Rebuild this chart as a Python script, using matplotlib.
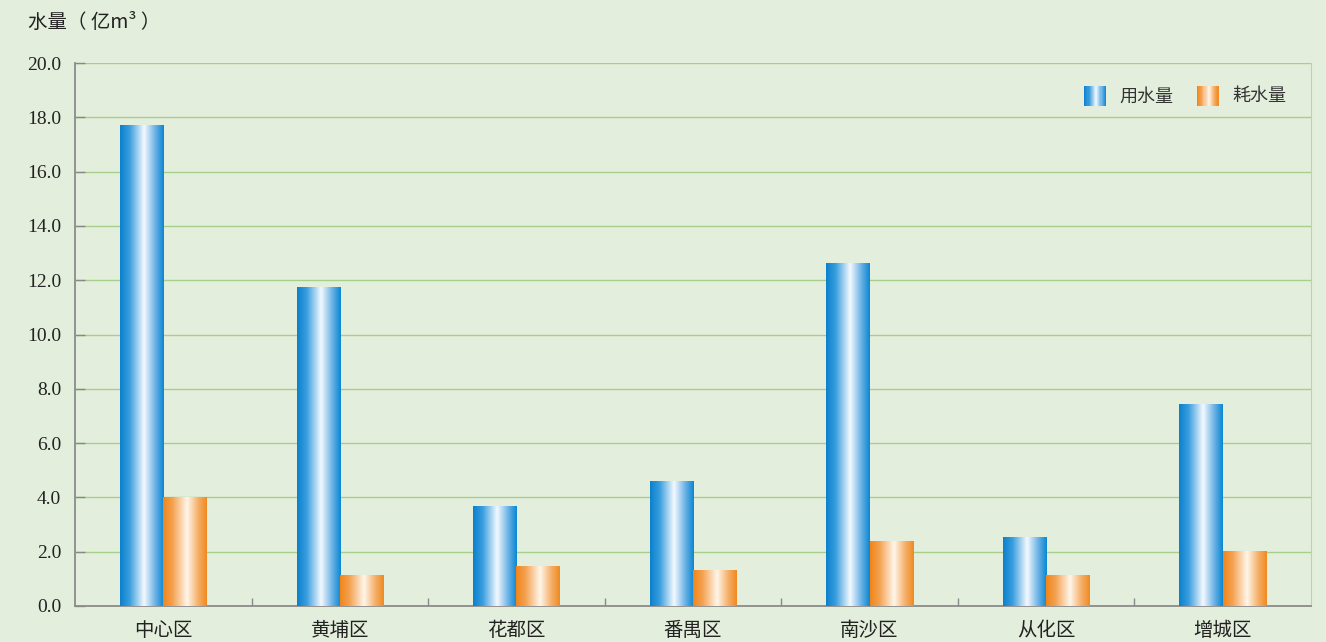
import numpy as np
import matplotlib
matplotlib.use("Agg")
import matplotlib.pyplot as plt
from matplotlib.colors import LinearSegmentedColormap
from matplotlib.patches import Rectangle
from matplotlib.legend_handler import HandlerBase

categories = ["中心区", "黄埔区", "花都区", "番禺区", "南沙区", "从化区", "增城区"]
use_water = [17.68, 11.73, 3.68, 4.6, 12.6, 2.52, 7.42]
consume_water = [4.0, 1.13, 1.46, 1.32, 2.37, 1.13, 2.0]
series_names = ["用水量", "耗水量"]
yticks = [0, 2, 4, 6, 8, 10, 12, 14, 16, 18, 20]

BG = "#e3efdc"
blue_cmap = LinearSegmentedColormap.from_list(
    "b", [(0, "#0a80cc"), (0.22, "#3a9ede"), (0.55, "#f4f9ff"), (0.8, "#6db3e6"), (1, "#0a86d2")])
orange_cmap = LinearSegmentedColormap.from_list(
    "o", [(0, "#f08519"), (0.22, "#f4a252"), (0.55, "#fff6ea"), (0.8, "#f5b06a"), (1, "#f08a20")])

fig = plt.figure(figsize=(13.26, 6.42), dpi=100, facecolor=BG)
ax = fig.add_axes([75/1326, 36/642, (1311-75)/1326, (606-63)/642])
ax.set_facecolor(BG)

x = np.arange(len(categories))
w = 0.245
b1 = ax.bar(x - w/2, use_water, w, color="none", edgecolor="none", zorder=3)
b2 = ax.bar(x + w/2, consume_water, w, color="none", edgecolor="none", zorder=3)

grad = np.linspace(0, 1, 256).reshape(1, -1)
for bars, cmap in ((b1, blue_cmap), (b2, orange_cmap)):
    for p in bars:
        x0, y0 = p.get_x(), p.get_y()
        ax.imshow(grad, cmap=cmap, aspect="auto", interpolation="bilinear",
                  extent=(x0, x0 + p.get_width(), y0, y0 + p.get_height()), zorder=3)

ax.set_xlim(-0.5, len(categories) - 0.5)
ax.set_ylim(0, 20)
ax.set_yticks(yticks)
ax.set_yticklabels([f"{v:.1f}" for v in yticks], fontfamily="Liberation Serif", fontsize=14, color="#222222")
ax.yaxis.grid(True, color="#a6cf8c", linewidth=1.0, zorder=1)
ax.set_axisbelow(True)
ax.tick_params(axis="y", direction="in", length=7, width=1, color="#888888", pad=10)

ax.set_xticks(x)
ax.set_xticklabels(categories, fontfamily="Noto Sans CJK SC", fontsize=14, color="#222222")
ax.tick_params(axis="x", length=0, pad=10)
ax.set_xticks(np.arange(0.5, len(categories) - 0.5, 1), minor=True)
ax.tick_params(axis="x", which="minor", direction="in", length=6, width=1, color="#888888")

for s in ("left", "bottom"):
    ax.spines[s].set_color("#8c8c8c")
    ax.spines[s].set_linewidth(1.3)
ax.spines["top"].set_visible(False)
ax.spines["right"].set_color("#bcd2b4")

fig.text(28/1326, 1 - 22/642, "水量（ 亿m³ ）", fontfamily=["Noto Sans CJK SC", "DejaVu Sans"],
         fontsize=14, color="#222222", va="center", ha="left")


class GradHandler(HandlerBase):
    def __init__(self, cmap):
        super().__init__()
        self.cmap = cmap

    def create_artists(self, legend, orig_handle, xdescent, ydescent, width, height, fontsize, trans):
        n = 20
        arts = []
        for i in range(n):
            r = Rectangle((-xdescent + width * i / n, -ydescent - 3), width / n + 0.3, height + 5,
                          facecolor=self.cmap((i + 0.5) / n), edgecolor="none", transform=trans)
            arts.append(r)
        return arts


h1 = Rectangle((0, 0), 1, 1)
h2 = Rectangle((0, 0), 1, 1)
leg = ax.legend([h1, h2], series_names, loc="upper right", bbox_to_anchor=(0.993, 0.985),
                frameon=False, ncol=2, handlelength=1.2, handletextpad=0.75, columnspacing=1.3,
                prop={"family": "Noto Sans CJK SC", "size": 13},
                handler_map={h1: GradHandler(blue_cmap), h2: GradHandler(orange_cmap)})
for t in leg.get_texts():
    t.set_color("#333333")

fig.savefig("out.png", dpi=100, facecolor=BG)
